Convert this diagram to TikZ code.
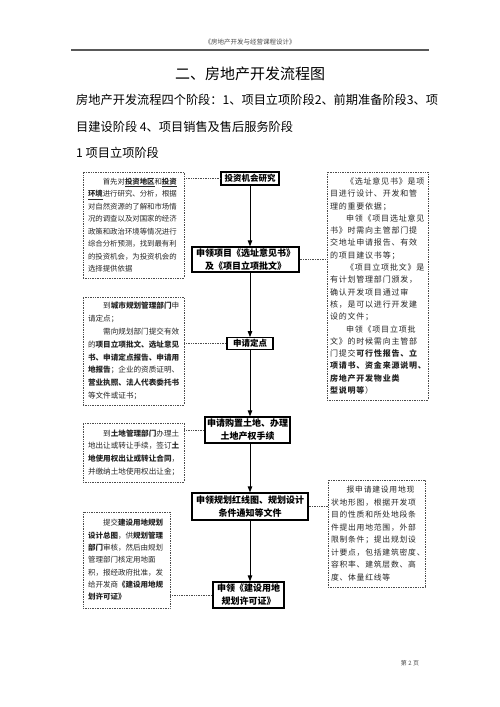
\documentclass[tikz,border=0pt]{standalone}
\usepackage{fontspec}
\setmainfont{Noto Sans CJK SC}
\newfontfamily\cjkwide[LetterSpace=10]{Noto Sans CJK SC}
\usetikzlibrary{arrows.meta}
\begin{document}
\begin{tikzpicture}[x=1pt,y=-1pt,
  mainbox/.style={draw, line width=1.3pt, align=center, inner sep=0pt, font=\bfseries\fontsize{9}{13}\selectfont},
  sidebox/.style={draw=black!70, densely dotted, line width=0.7pt, align=left, inner xsep=5pt, inner ysep=0pt, text=black!85},
  dotline/.style={densely dotted, line width=0.7pt, draw=black!70},
  arr/.style={-{Triangle[length=6pt,width=4.5pt]}, line width=0.9pt}]
\useasboundingbox (0,0) rectangle (500,707);
% header
\node[font=\fontsize{6.5}{7}\selectfont, text=black!70] (hdr) at (250,42) {《房地产开发与经营课程设计》};
\coordinate (rl) at (71,49.5);
\coordinate (rr) at (429,49.5);
\draw[line width=2pt, black!65] (rl) -- (rr);
% title and paragraph
\node[font=\fontsize{15}{16}\selectfont] (title) at (250,74) {二、房地产开发流程图};
\node[anchor=west, font=\fontsize{12.2}{13}\selectfont, inner sep=0pt] (p1) at (76,100) {房地产开发流程四个阶段：1、项目立项阶段2、前期准备阶段3、项};
\node[anchor=west, font=\fontsize{12.2}{13}\selectfont, inner sep=0pt] (p2) at (76,127) {目建设阶段 4、项目销售及售后服务阶段};
\node[anchor=west, font=\fontsize{12.2}{13}\selectfont, inner sep=0pt] (p3) at (76,153) {1 项目立项阶段};
% main boxes
\node[mainbox, minimum width=58pt, minimum height=13pt, font=\bfseries\fontsize{8.5}{13}\selectfont] (b1) at (250,178.5) {投资机会研究};
\node[mainbox, minimum width=107pt, minimum height=25pt] (b2) at (245.5,259.5) {申领项目《选址意见书》\\及《项目立项批文》};
\node[mainbox, minimum width=46pt, minimum height=11.5pt, font=\bfseries\fontsize{8.5}{13}\selectfont] (b3) at (250,343.5) {申请定点};
\node[mainbox, minimum width=85pt, minimum height=26pt] (b4) at (247.5,430) {申请购置土地、办理\\土地产权手续};
\node[mainbox, minimum width=116pt, minimum height=27pt] (b5) at (250,506.5) {申领规划红线图、规划设计\\条件通知等文件};
\node[mainbox, minimum width=71pt, minimum height=26pt] (b6) at (248.5,595) {申领《建设用地\\规划许可证》};
% arrows
\draw[arr] (b1.south) -- (b1.south |- b2.north);
\draw[arr] (b2.south -| b1.south) -- (b1.south |- b3.north);
\draw[arr] (b3.south) -- (b3.south |- b4.north);
\draw[arr] (b4.south -| b1.south) -- (b1.south |- b5.north);
\draw[arr] (b5.south -| b1.south) -- (b1.south |- b6.north);
% left side boxes
\node[sidebox, text width=91pt, minimum height=106pt, font=\fontsize{7.4}{12.5}\selectfont] (l1) at (133.5,225) {\hspace*{2em}首先对\textbf{\underline{投资地区}}和\textbf{\underline{投资}}\\\textbf{\underline{环境}}进行研究、分析，根据\\对自然资源的了解和市场情\\况的调查以及对国家的经济\\政策和政治环境等情况进行\\综合分析预测，找到最有利\\的投资机会，为投资机会的\\选择提供依据};
\node[sidebox, text width=91pt, minimum height=108pt, font=\fontsize{7.6}{12.8}\selectfont] (l2) at (133.5,351) {\hspace*{2em}到\textbf{城市规划管理部门}申\\请定点；\\\hspace*{2em}需向规划部门提交有效\\的\textbf{项目立项批文、选址意见}\\\textbf{书、申请定点报告、申请用}\\\textbf{地报告}；企业的资质证明、\\\textbf{营业执照、法人代表委托书}\\等文件或证书；};
\node[sidebox, text width=91pt, minimum height=59pt, font=\fontsize{7.6}{12.6}\selectfont] (l3) at (133.5,452.5) {\hspace*{2em}到\textbf{土地管理部门}办理土\\地出让或转让手续，签订\textbf{土}\\\textbf{地使用权出让或转让合同}，\\并缴纳土地使用权出让金；};
\node[sidebox, text width=77pt, minimum height=96pt, font=\fontsize{7.5}{12.3}\selectfont] (l4) at (126.5,560) {\hspace*{2em}提交\textbf{建设用地规划}\\\textbf{设计总图}，供\textbf{规划管理}\\\textbf{部门}审核，然后由规划\\管理部门核定用地面\\积，报经政府批准，发\\给开发商\textbf{《建设用地规}\\\textbf{划许可证》}};
% right side boxes
\node[sidebox, inner xsep=3pt, text width=95pt, minimum height=228pt, font=\cjkwide\fontsize{8}{12.3}\selectfont] (r1) at (377.5,286) {\hspace*{2em}《选址意见书》是项\\目进行设计、开发和管\\理的重要依据；\\\hspace*{2em}申领《项目选址意见\\书》时需向主管部门提\\交地址申请报告、有效\\的项目建议书等；\\\hspace*{2em}《项目立项批文》是\\有计划管理部门颁发，\\确认开发项目通过审\\核，是可以进行开发建\\设的文件；\\\hspace*{2em}申领《项目立项批\\文》的时候需向主管部\\门提交\textbf{可行性报告、立}\\\textbf{项请书、资金来源说明、}\\\textbf{房地产开发物业类}\\\textbf{型说明等}）};
\node[sidebox, inner xsep=3pt, text width=91pt, minimum height=107pt, font=\cjkwide\fontsize{7.8}{12.5}\selectfont] (r2) at (376.5,533.5) {\hspace*{2em}报申请建设用地现\\状地形图，根据开发项\\目的性质和所处地段条\\件提出用地范围，外部\\限制条件；提出规划设\\计要点，包括建筑密度、\\容积率、建筑层数、高\\度、体量红线等};
% dotted connectors
\draw[dotline] (l1.east |- b1.west) -- (b1.west);
\draw[dotline] (b2.east) -- (b2.east -| r1.west);
\draw[dotline] (l2.east |- b3.west) -- (b3.west);
\draw[dotline] (l3.east |- b4.west) -- (b4.west);
\draw[dotline] (b5.east) -- (b5.east -| r2.west);
\draw[dotline] (l4.east |- b6.west) -- (b6.west);
% page number
\node[font=\fontsize{6}{7}\selectfont, text=black!70] (pg) at (410,663) {第 2 页};
\end{tikzpicture}
\end{document}
